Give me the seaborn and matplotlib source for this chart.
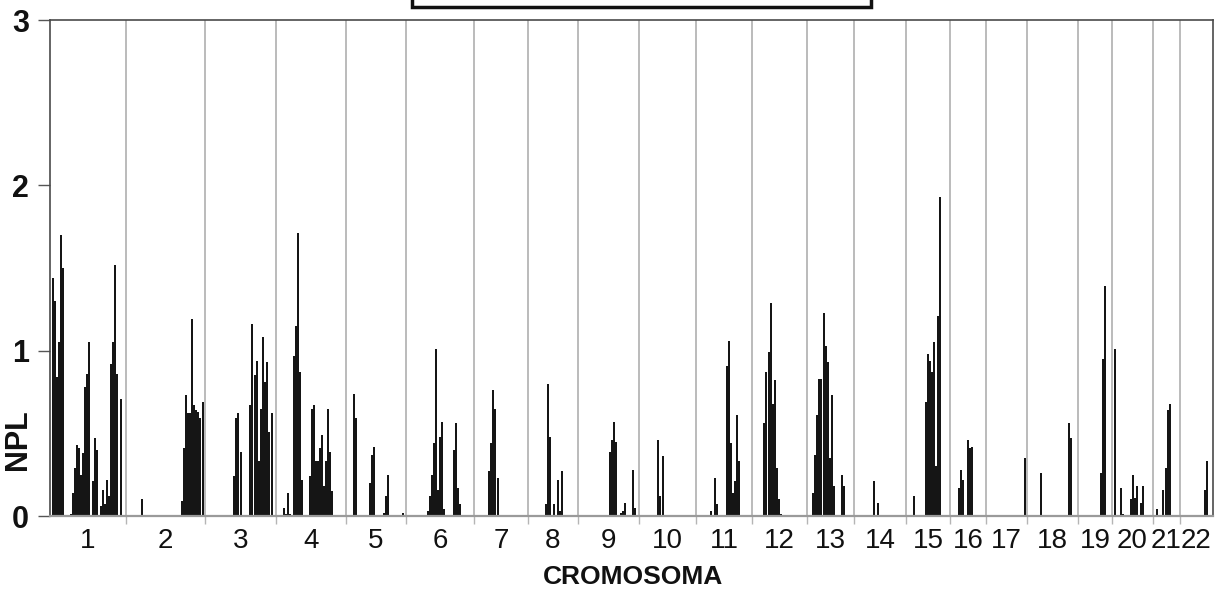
import numpy as np
import pandas as pd
import matplotlib
matplotlib.use("Agg")
import matplotlib.pyplot as plt
from matplotlib.patches import Rectangle
import seaborn as sns

# ---------------- data ----------------
chromosomes = [str(i) for i in range(1, 23)]
# chromosome lengths on the map scale (cM-like units)
chrom_lengths = [76, 79, 71, 70, 60, 68, 54, 50, 61, 57, 56, 55,
                 47, 52, 44, 36, 41, 51, 34, 41, 27, 33]

# marker positions (relative to chromosome start) and NPL scores
chr1_pos = [3, 5, 7, 9, 11, 13, 21, 23, 25, 27, 29, 31, 33, 35, 37, 39, 43, 45, 47,
            51, 53, 55, 57, 59, 61, 63, 65, 67, 71]
chr1_npl = [1.44, 1.30, 0.84, 1.05, 1.70, 1.50, 0.01, 0.14, 0.29, 0.43, 0.41, 0.25,
            0.38, 0.78, 0.86, 1.05, 0.21, 0.47, 0.40, 0.06, 0.16, 0.07, 0.22, 0.12,
            0.92, 1.05, 1.52, 0.86, 0.71]
chr2_pos = [16, 56, 58, 60, 62, 64, 66, 68, 70, 72, 74, 77]
chr2_npl = [0.10, 0.09, 0.41, 0.73, 0.62, 0.62, 1.19, 0.67, 0.64, 0.63, 0.59, 0.69]
chr3_pos = [29, 31, 33, 36, 45, 47, 50, 52, 54, 56, 58, 60, 62, 64, 67]
chr3_npl = [0.24, 0.59, 0.62, 0.39, 0.67, 1.16, 0.85, 0.94, 0.33, 0.65, 1.08, 0.81,
            0.93, 0.51, 0.62]
chr4_pos = [8, 10, 12, 14, 18, 20, 22, 24, 26, 34, 36, 38, 40, 42, 44, 46, 48, 50,
            52, 54, 56]
chr4_npl = [0.05, 0.01, 0.14, 0.01, 0.97, 1.15, 1.71, 0.87, 0.22, 0.24, 0.65, 0.67,
            0.33, 0.33, 0.41, 0.49, 0.18, 0.33, 0.65, 0.39, 0.15]
chr5_pos = [8, 10, 24, 26, 28, 38, 40, 42, 57]
chr5_npl = [0.74, 0.59, 0.20, 0.37, 0.42, 0.02, 0.12, 0.25, 0.02]
chr6_pos = [22, 24, 26, 28, 30, 32, 34, 36, 38, 48, 50, 52, 54]
chr6_npl = [0.03, 0.12, 0.25, 0.44, 1.01, 0.16, 0.48, 0.57, 0.04, 0.40, 0.56, 0.17, 0.07]
chr7_pos = [15, 17, 19, 21, 24]
chr7_npl = [0.27, 0.44, 0.76, 0.65, 0.23]
chr8_pos = [18, 20, 22, 26, 30, 32, 34]
chr8_npl = [0.07, 0.80, 0.48, 0.07, 0.22, 0.03, 0.27]
chr9_pos = [32, 34, 36, 38, 43, 45, 47, 55, 57]
chr9_npl = [0.39, 0.46, 0.57, 0.45, 0.02, 0.03, 0.08, 0.28, 0.05]
chr10_pos = [19, 21, 24]
chr10_npl = [0.46, 0.12, 0.36]
chr11_pos = [15, 19, 21, 31, 33, 35, 37, 39, 41, 43]
chr11_npl = [0.03, 0.23, 0.07, 0.91, 1.06, 0.44, 0.14, 0.21, 0.61, 0.33]
chr12_pos = [12, 14, 17, 19, 21, 23, 25, 27, 29]
chr12_npl = [0.56, 0.87, 0.99, 1.29, 0.68, 0.82, 0.29, 0.10, 0.01]
chr13_pos = [6, 8, 10, 12, 14, 17, 19, 21, 23, 25, 27, 35, 37]
chr13_npl = [0.14, 0.37, 0.61, 0.83, 0.83, 1.23, 1.03, 0.93, 0.35, 0.73, 0.18, 0.25, 0.18]
chr14_pos = [20, 24]
chr14_npl = [0.21, 0.08]
chr15_pos = [8, 20, 22, 24, 26, 28, 30, 32, 34]
chr15_npl = [0.12, 0.69, 0.98, 0.94, 0.87, 1.05, 0.30, 1.21, 1.93]
chr16_pos = [9, 11, 13, 18, 20, 22]
chr16_npl = [0.17, 0.28, 0.22, 0.46, 0.41, 0.42]
chr17_pos = [39]
chr17_npl = [0.35]
chr18_pos = [14, 42, 44]
chr18_npl = [0.26, 0.56, 0.47]
chr19_pos = [23, 25, 27]
chr19_npl = [0.26, 0.95, 1.39]
chr20_pos = [3, 9, 11, 19, 21, 23, 25, 29, 31]
chr20_npl = [1.01, 0.17, 0.01, 0.10, 0.25, 0.11, 0.18, 0.08, 0.18]
chr21_pos = [4, 10, 13, 15, 17]
chr21_npl = [0.04, 0.16, 0.29, 0.64, 0.68]
chr22_pos = [25, 27]
chr22_npl = [0.16, 0.33]

y_ticks = [0, 1, 2, 3]

positions = [chr1_pos, chr2_pos, chr3_pos, chr4_pos, chr5_pos, chr6_pos, chr7_pos,
             chr8_pos, chr9_pos, chr10_pos, chr11_pos, chr12_pos, chr13_pos,
             chr14_pos, chr15_pos, chr16_pos, chr17_pos, chr18_pos, chr19_pos,
             chr20_pos, chr21_pos, chr22_pos]
scores = [chr1_npl, chr2_npl, chr3_npl, chr4_npl, chr5_npl, chr6_npl, chr7_npl,
          chr8_npl, chr9_npl, chr10_npl, chr11_npl, chr12_npl, chr13_npl,
          chr14_npl, chr15_npl, chr16_npl, chr17_npl, chr18_npl, chr19_npl,
          chr20_npl, chr21_npl, chr22_npl]

starts = np.concatenate([[0], np.cumsum(chrom_lengths)[:-1]])
total_len = float(np.sum(chrom_lengths))

rows = []
for c, st, ps, vs in zip(chromosomes, starts, positions, scores):
    for p, v in zip(ps, vs):
        rows.append({"chrom": c, "pos": st + p, "npl": v})
df = pd.DataFrame(rows)

# ---------------- style ----------------
sns.set_theme(style="white")
plt.rcParams["font.family"] = ["Liberation Sans", "DejaVu Sans"]

fig = plt.figure(figsize=(12.25, 6.0), dpi=100)
ax = fig.add_axes([50 / 1225, 1 - 516 / 600, 1163 / 1225, 496 / 600])

# separators between chromosomes
for b in starts[1:]:
    ax.axvline(b, color="#b5b5b5", lw=1.3, zorder=0)

native = np.min(np.diff(np.unique(df["pos"].values)))
sns.barplot(data=df, x="pos", y="npl", native_scale=True, width=2.3 / native,
            color="#151515", saturation=1, errorbar=None, linewidth=0, ax=ax, zorder=2)

ax.set_xlim(0, total_len)
ax.set_ylim(0, 3)

centers = starts + np.array(chrom_lengths) / 2.0
ax.set_xticks(centers)
ax.set_xticklabels(chromosomes, fontsize=20, family=["Liberation Sans Narrow", "Liberation Sans"])
ax.set_xticks(starts[1:], minor=True)
ax.tick_params(axis="x", which="major", length=0, pad=9, colors="#111111")
ax.tick_params(axis="x", which="minor", length=6, width=1.0, color="#b5b5b5", bottom=True)

ax.set_yticks(y_ticks)
ax.set_yticklabels([str(t) for t in y_ticks], fontsize=22, fontweight="bold")
ax.tick_params(axis="y", which="major", length=9, width=1.0, color="#555555",
               left=True, pad=6, labelcolor="#111111")

for s in ["left", "top", "right"]:
    ax.spines[s].set_color("#4a4a4a")
    ax.spines[s].set_linewidth(1.2)
ax.spines["bottom"].set_color("#9a9a9a")
ax.spines["bottom"].set_linewidth(1.6)

ax.set_xlabel("CROMOSOMA", fontsize=19, fontweight="bold", color="#111111")
ax.xaxis.set_label_coords(0.501, -0.099)
ax.set_ylabel("NPL", fontsize=22, fontweight="bold", color="#111111")
ax.yaxis.set_label_coords(-0.0145, 0.153)

# empty title box partly cut off at the top
fig.patches.append(Rectangle((412 / 1225, 1 - 7 / 600), (871 - 412) / 1225, 0.06,
                             transform=fig.transFigure, facecolor="white",
                             edgecolor="#111111", lw=2.5, clip_on=False))

fig.savefig("out.png", dpi=100, facecolor="white")
